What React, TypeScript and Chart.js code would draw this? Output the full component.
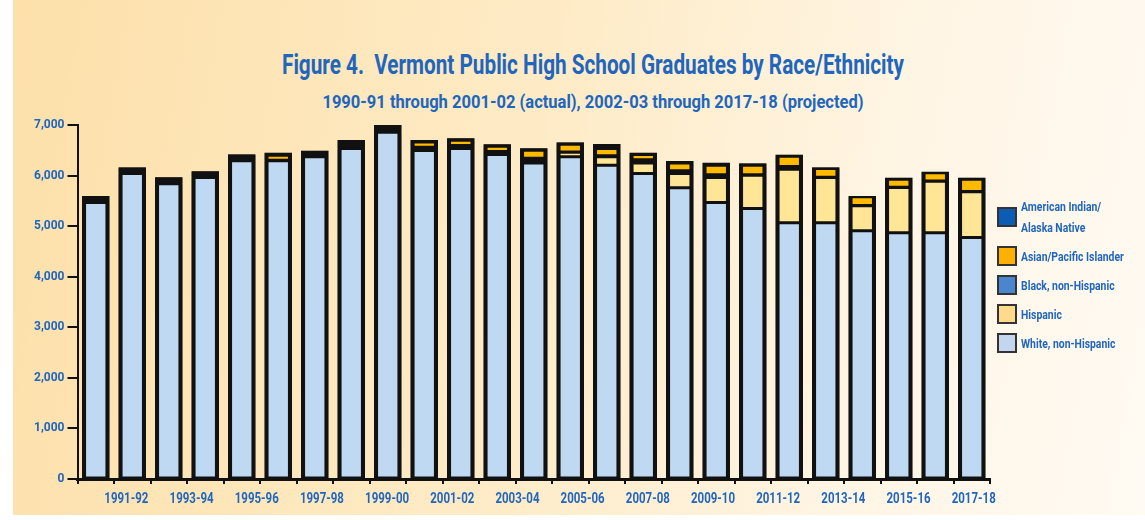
import React, { useEffect, useRef } from "react";
import { Chart, registerables } from "chart.js";

Chart.register(...registerables);

// ---- data ----
const titleText = "Figure 4.  Vermont Public High School Graduates by Race/Ethnicity";
const subtitleText = "1990-91 through 2001-02 (actual), 2002-03 through 2017-18 (projected)";

// school-year labels printed under the axis (every other one shown)
const yearLabels = [
  "1990-91", "1991-92", "1992-93", "1993-94", "1994-95", "1995-96", "1996-97",
  "1997-98", "1998-99", "1999-00", "2000-01", "2001-02", "2002-03", "2003-04",
  "2004-05", "2005-06", "2006-07", "2007-08", "2008-09", "2009-10", "2010-11",
  "2011-12", "2012-13", "2013-14", "2014-15", "2015-16", "2016-17", "2017-18",
];

// the 25 bars drawn in the figure
const barCategories = [
  "1993-94", "1994-95", "1995-96", "1996-97", "1997-98", "1998-99", "1999-00",
  "2000-01", "2001-02", "2002-03", "2003-04", "2004-05", "2005-06", "2006-07",
  "2007-08", "2008-09", "2009-10", "2010-11", "2011-12", "2012-13", "2013-14",
  "2014-15", "2015-16", "2016-17", "2017-18",
];

const whiteNonHispanic = [
  5466, 6040, 5836, 5960, 6291, 6291, 6370, 6534, 6856, 6494, 6534, 6415, 6251,
  6370, 6203, 6040, 5757, 5466, 5348, 5065, 5065, 4907, 4867, 4867, 4774,
];
const hispanic = [
  15, 15, 15, 15, 15, 5, 15, 15, 15, 10, 10, 10, 10,
  90, 167, 211, 283, 495, 658, 1060, 896, 494, 896, 1020, 904,
];
const blackNonHispanic = [
  40, 35, 40, 35, 40, 7, 35, 55, 45, 56, 49, 50, 81,
  5, 20, 60, 53, 53, 8, 53, 6, 5, 5, 5, 6,
];
const asianPacific = [
  40, 40, 40, 40, 40, 99, 40, 50, 45, 106, 105, 104, 158,
  154, 144, 104, 158, 190, 190, 204, 172, 175, 159, 162, 243,
];
const americanIndian = [
  34, 32, 34, 33, 33, 49, 31, 48, 38, 36, 38, 38, 38,
  37, 89, 36, 36, 49, 37, 30, 23, 15, 30, 21, 30,
];

const yTickValues = [0, 1000, 2000, 3000, 4000, 5000, 6000, 7000];

// legend entries, top to bottom
const legendNames = [
  "American Indian/\nAlaska Native",
  "Asian/Pacific Islander",
  "Black, non-Hispanic",
  "Hispanic",
  "White, non-Hispanic",
];
const legendColors = ["#0b5cb5", "#ffb000", "#4a86d0", "#ffd98c", "#c4d6ee"];

// ---- styles ----
const FONT = 'Roboto, "Noto Sans", sans-serif';
const BLUE = "#2166bd";
const INK = "#111111";

// axis year labels, drawn slightly condensed at the xl scale's category centres
const yearLabelPlugin = {
  id: "yearLabels",
  afterDraw(chart: any) {
    const scale = chart.scales.xl;
    if (!scale) return;
    const ctx = chart.ctx;
    ctx.save();
    ctx.fillStyle = BLUE;
    ctx.font = `bold 14px ${FONT}`;
    ctx.textAlign = "center";
    ctx.textBaseline = "middle";
    yearLabels.forEach((lab, i) => {
      if (i % 2 !== 1) return;
      const x = scale.getPixelForValue(i);
      ctx.save();
      ctx.translate(x, scale.top + 14);
      ctx.scale(0.82, 1);
      ctx.fillText(lab, 0, 0);
      ctx.restore();
    });
    ctx.restore();
  },
};

// dark backing behind each stacked column so segment seams stay black
const stackBackingPlugin = {
  id: "stackBacking",
  beforeDatasetsDraw(chart: any) {
    const n = chart.data.datasets.length;
    const bottomMeta = chart.getDatasetMeta(0);
    const topMeta = chart.getDatasetMeta(n - 1);
    const ctx = chart.ctx;
    ctx.save();
    ctx.fillStyle = INK;
    bottomMeta.data.forEach((el: any, i: number) => {
      const b = el.getProps(["x", "width", "base"], true);
      const t = topMeta.data[i].getProps(["y"], true);
      ctx.fillRect(b.x - b.width / 2, t.y, b.width, b.base - t.y);
    });
    ctx.restore();
  },
};

export default function App() {
  const canvasRef = useRef<HTMLCanvasElement | null>(null);

  useEffect(() => {
    const canvas = canvasRef.current;
    if (!canvas) return;

    const seg = (label: string, data: number[], fill: string) => ({
      label,
      data,
      backgroundColor: fill,
      borderColor: INK,
      borderWidth: { top: 1.5, left: 4, right: 4, bottom: 1.5 },
      borderSkipped: false,
      barPercentage: 0.75,
      categoryPercentage: 1.0,
    });

    const chart = new Chart(canvas, {
      type: "bar",
      data: {
        labels: barCategories,
        datasets: [
          seg("White, non-Hispanic", whiteNonHispanic, "#bed9f1"),
          seg("Hispanic", hispanic, "#ffe596"),
          seg("Black, non-Hispanic", blackNonHispanic, INK),
          seg("Asian/Pacific Islander", asianPacific, "#ffba00"),
          seg("American Indian/Alaska Native", americanIndian, INK),
        ] as any,
      },
      options: {
        responsive: false,
        animation: false,
        layout: { padding: { left: 0, right: 155, top: 125, bottom: 0 } },
        plugins: {
          legend: { display: false },
          title: { display: false },
          tooltip: { enabled: false },
        },
        scales: {
          x: {
            stacked: true,
            position: "bottom",
            weight: 0,
            offset: true,
            ticks: { display: false },
            grid: {
              offset: true,
              drawOnChartArea: false,
              drawTicks: true,
              tickLength: 5,
              color: INK,
              lineWidth: 2,
            },
            border: { display: true, color: INK, width: 3 },
            afterFit: (s: any) => {
              s.height = 6;
            },
          },
          xl: {
            type: "category",
            labels: yearLabels,
            position: "bottom",
            weight: 1,
            offset: true,
            grid: { display: false, drawTicks: false },
            border: { display: false },
            ticks: { display: false },
            afterFit: (s: any) => {
              s.height = 35;
            },
          },
          y: {
            stacked: true,
            min: 0,
            max: 7000,
            afterBuildTicks: (s: any) => {
              s.ticks = yTickValues.map((v) => ({ value: v }));
            },
            ticks: {
              padding: 3,
              color: BLUE,
              font: { family: FONT, size: 12, weight: "bold" },
              callback: (v: any) => Number(v).toLocaleString("en-US"),
            },
            grid: {
              drawOnChartArea: false,
              drawTicks: true,
              tickLength: 10,
              color: INK,
              lineWidth: 2,
            },
            border: { display: true, color: INK, width: 2 },
            afterFit: (s: any) => {
              s.width = 77.5;
            },
          },
        },
      } as any,
      plugins: [stackBackingPlugin, yearLabelPlugin],
    });

    return () => chart.destroy();
  }, []);

  return (
    <div
      style={{
        position: "absolute",
        left: 0,
        top: 0,
        width: 1145,
        height: 520,
        background: "#ffffff",
        overflow: "hidden",
        fontFamily: FONT,
      }}
    >
      <div
        style={{
          position: "absolute",
          left: 13,
          top: 0,
          width: 1132,
          height: 515,
          background: "linear-gradient(100deg, #fde0aa 0%, #feebc6 45%, #fff5e4 75%, #fffaf3 100%)",
        }}
      />
      <div
        style={{
          position: "absolute",
          left: 43,
          width: 1100,
          top: 49,
          lineHeight: "32px",
          textAlign: "center",
          color: BLUE,
          fontSize: 28,
          fontWeight: 700,
          whiteSpace: "pre",
          transform: "scaleX(0.74)",
          transformOrigin: "550px 50%",
        }}
      >
        {titleText}
      </div>
      <div
        style={{
          position: "absolute",
          left: 43,
          width: 1100,
          top: 90,
          lineHeight: "24px",
          textAlign: "center",
          color: BLUE,
          fontSize: 19,
          fontWeight: 700,
          whiteSpace: "pre",
          transform: "scaleX(0.87)",
          transformOrigin: "550px 50%",
        }}
      >
        {subtitleText}
      </div>
      <canvas
        ref={canvasRef}
        width={1145}
        height={520}
        style={{ position: "absolute", left: 0, top: 0, width: 1145, height: 520 }}
      />
      <div
        style={{
          position: "absolute",
          left: 997,
          top: 196,
          display: "flex",
          flexDirection: "column",
          gap: 7,
        }}
      >
        {legendNames.map((name, i) => (
          <div key={name} style={{ display: "flex", alignItems: "center", minHeight: 22 }}>
            <div
              style={{
                width: 20,
                height: 20,
                boxSizing: "border-box",
                border: "2px solid #333",
                background: legendColors[i],
                marginRight: 4,
                flex: "none",
              }}
            />
            <div
              style={{
                color: BLUE,
                fontSize: 13,
                fontWeight: 700,
                lineHeight: "21px",
                whiteSpace: "pre",
                transform: "scaleX(0.8)",
                transformOrigin: "0 50%",
              }}
            >
              {name}
            </div>
          </div>
        ))}
      </div>
    </div>
  );
}
